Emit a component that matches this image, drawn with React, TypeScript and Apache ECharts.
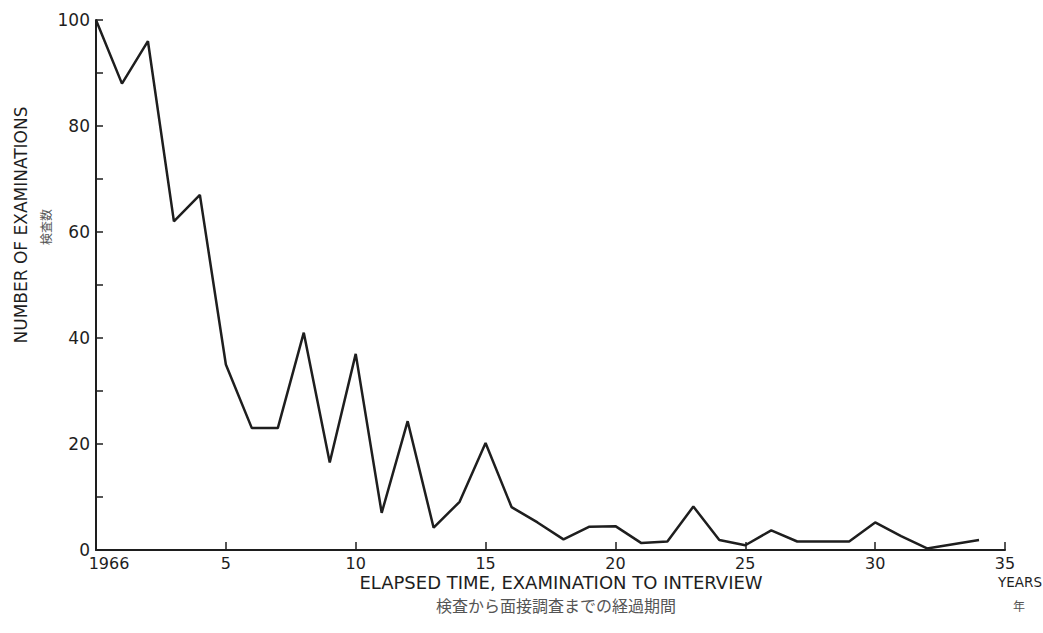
import React, { useEffect, useRef } from "react";
import * as echarts from "echarts";

const elapsedYears = [
  0, 1, 2, 3, 4, 5, 6, 7, 8, 9, 10, 11, 12, 13, 14, 15, 16, 17, 18, 19, 20, 21,
  22, 23, 24, 25, 26, 27, 28, 29, 30, 31, 32, 33, 34,
];
const examinations = [
  100, 88, 96, 62, 67, 35, 23, 23, 41, 16.5, 37, 7, 24.3, 4.2, 9.1, 20.2, 8.1,
  5.2, 2.0, 4.4, 4.5, 1.3, 1.6, 8.2, 1.9, 0.9, 3.7, 1.6, 1.6, 1.6, 5.2, 2.6,
  0.3, 1.1, 1.9,
];
const xTickLabels: Record<number, string> = {
  0: "1966",
  5: "5",
  10: "10",
  15: "15",
  20: "20",
  25: "25",
  30: "30",
  35: "35",
};
const yTickLabels = [0, 20, 40, 60, 80, 100];

const yName = "NUMBER OF EXAMINATIONS";
const yNameJa = "検査数";
const xName = "ELAPSED TIME, EXAMINATION TO INTERVIEW";
const xNameJa = "検査から面接調査までの経過期間";
const unitName = "YEARS";
const unitNameJa = "年";

const FONT = "'DejaVu Sans', sans-serif";
const JA_FONT = "'Noto Sans CJK JP', sans-serif";
const INK = "#1e1e1e";

export default function App() {
  const ref = useRef<HTMLDivElement>(null);
  useEffect(() => {
    document.body.style.margin = "0";
    if (!ref.current) return;
    const chart = echarts.init(ref.current, null, { renderer: "svg" });
    chart.setOption({
      animation: false,
      backgroundColor: "#ffffff",
      grid: { left: 96, right: 38, top: 20, bottom: 83, containLabel: false },
      xAxis: {
        type: "value",
        min: 0,
        max: 35,
        interval: 5,
        splitLine: { show: false },
        axisLine: { show: true, onZero: false, lineStyle: { color: INK, width: 2 } },
        axisTick: { show: true, inside: true, length: 8, lineStyle: { color: INK, width: 1.5 } },
        axisLabel: {
          show: true,
          margin: 5,
          color: INK,
          fontSize: 16,
          fontFamily: FONT,
          formatter: (v: number) => (v === 0 ? "{first|1966}" : xTickLabels[v] ?? ""),
          rich: {
            first: {
              color: INK,
              fontSize: 16,
              fontFamily: FONT,
              padding: [0, 0, 0, 26],
            },
          },
        },
      },
      yAxis: {
        type: "value",
        min: 0,
        max: 100,
        interval: 10,
        splitLine: { show: false },
        axisLine: { show: true, lineStyle: { color: INK, width: 2 } },
        axisTick: { show: true, inside: true, length: 7, lineStyle: { color: INK, width: 1.5 } },
        axisLabel: {
          show: true,
          margin: 6,
          color: INK,
          fontSize: 17,
          fontFamily: FONT,
          formatter: (v: number) => (yTickLabels.includes(v) ? String(v) : ""),
        },
      },
      graphic: [
        {
          type: "text",
          x: 21,
          y: 225,
          rotation: Math.PI / 2,
          style: {
            text: yName,
            fill: INK,
            font: `17px ${FONT}`,
            align: "center",
            verticalAlign: "middle",
          },
        },
        {
          type: "text",
          x: 45,
          y: 227,
          rotation: Math.PI / 2,
          style: {
            text: yNameJa,
            fill: "#555",
            font: `12px ${JA_FONT}`,
            align: "center",
            verticalAlign: "middle",
          },
        },
        {
          type: "text",
          x: 561,
          y: 582,
          style: {
            text: xName,
            fill: INK,
            font: `18px ${FONT}`,
            align: "center",
            verticalAlign: "middle",
          },
        },
        {
          type: "text",
          x: 556,
          y: 605,
          style: {
            text: xNameJa,
            fill: "#555",
            font: `16px ${JA_FONT}`,
            align: "center",
            verticalAlign: "middle",
          },
        },
        {
          type: "text",
          x: 1020,
          y: 582,
          style: {
            text: unitName,
            fill: INK,
            font: `13.5px ${FONT}`,
            align: "center",
            verticalAlign: "middle",
          },
        },
        {
          type: "text",
          x: 1019,
          y: 605,
          style: {
            text: unitNameJa,
            fill: "#555",
            font: `12px ${JA_FONT}`,
            align: "center",
            verticalAlign: "middle",
          },
        },
      ],
      series: [
        {
          type: "line",
          data: elapsedYears.map((x, i) => [x, examinations[i]]),
          showSymbol: false,
          symbol: "none",
          lineStyle: { color: INK, width: 2.5 },
        },
      ],
    });
    return () => chart.dispose();
  }, []);
  return <div ref={ref} style={{ width: 1043, height: 633 }} />;
}
